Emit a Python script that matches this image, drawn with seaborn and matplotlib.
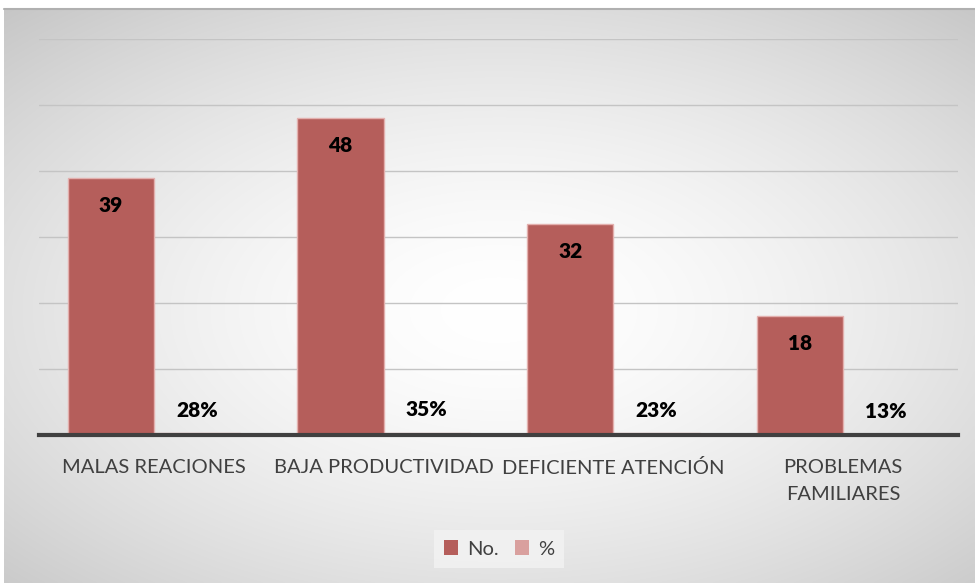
import numpy as np
import pandas as pd
import matplotlib
matplotlib.use("Agg")
import matplotlib.pyplot as plt
import seaborn as sns

sns.set_theme(style="white")
plt.rcParams['font.family'] = ['Lato', 'DejaVu Sans']

categorias = ['MALAS REACIONES', 'BAJA PRODUCTIVIDAD', 'DEFICIENTE ATENCIÓN', 'PROBLEMAS\nFAMILIARES']
numero = [39, 48, 32, 18]
porcentaje = [0.28, 0.35, 0.23, 0.13]
series = ['No.', '%']
colores = {'No.': '#b55e5b', '%': '#d9a09e'}

df = pd.DataFrame({
    'Categoria': categorias * 2,
    'Serie': ['No.'] * len(categorias) + ['%'] * len(categorias),
    'Valor': numero + porcentaje,
})

fig = plt.figure(figsize=(9.75, 5.83), dpi=100)
fig.patch.set_facecolor('white')

# radial gradient panel behind the chart
bg = fig.add_axes([4 / 975, 0, 1 - 4 / 975, 1 - 9 / 583], zorder=0)
gx, gy = np.meshgrid(np.linspace(-1, 1, 400), np.linspace(-1, 1, 300))
r = np.sqrt(((gx - 0.02) / 1.15) ** 2 + ((gy - 0.05) / 1.1) ** 2)
shade = 1.0 - 0.25 * np.clip(r, 0, 1.4) ** 1.6 / 1.4 ** 1.6
bg.imshow(np.dstack([shade] * 3), aspect='auto', extent=[0, 1, 0, 1], interpolation='bilinear')
bg.set_xlim(0, 1)
bg.set_ylim(0, 1)
bg.axis('off')
bg.plot([0, 1], [1, 1], color='#b0b0b0', lw=1.5, transform=bg.transAxes, clip_on=False)

ax = fig.add_axes([39 / 975, 148 / 583, (958 - 39) / 975, (435 - 39) / 583], zorder=1)
ax.patch.set_alpha(0)

sns.barplot(data=df, x='Categoria', y='Valor', hue='Serie', hue_order=series,
            palette=colores, width=0.75, edgecolor='#e3b0ae', linewidth=1,
            saturation=1, ax=ax, legend=False, zorder=3)

ax.set_ylim(0, 60)
ax.set_yticks(np.arange(0, 61, 10))
ax.set_yticklabels([])
ax.tick_params(axis='y', length=0)
ax.tick_params(axis='x', length=0, pad=17, labelsize=14.5, labelcolor='#404040')
for lbl in ax.get_xticklabels():
    lbl.set_linespacing(1.75)
ax.yaxis.grid(True, color='#c4c4c4', lw=1)
ax.set_axisbelow(True)
ax.set_xlabel('')
ax.set_ylabel('')
for s in ['top', 'right', 'left']:
    ax.spines[s].set_visible(False)
ax.spines['bottom'].set_color('#404040')
ax.spines['bottom'].set_linewidth(3)
ax.spines['bottom'].set_zorder(5)

# data labels
for serie, cont in zip(series, ax.containers):
    for bar in cont:
        h = bar.get_height()
        xc = bar.get_x() + bar.get_width() / 2
        if serie == 'No.':
            txt, off = f'{h:.0f}', -20
        else:
            txt, off = f'{h * 100:.0f}%', 16.5
        ax.annotate(txt, (xc, h), xytext=(0, off), textcoords='offset points',
                    ha='center', va='center', fontsize=15, fontweight='heavy',
                    color='black', zorder=6)

handles = [plt.Rectangle((0, 0), 1, 1, facecolor=colores[s], edgecolor='none') for s in series]
leg = fig.legend(handles, series, loc='center', bbox_to_anchor=(499 / 975, 1 - 549 / 583),
                 ncol=2, frameon=True, fontsize=14.5, handlelength=0.7, handleheight=0.7,
                 handletextpad=0.45, columnspacing=0.8, borderpad=0.5, fancybox=False)
leg.get_frame().set_facecolor('#f3f3f3')
leg.get_frame().set_edgecolor('none')
for t in leg.get_texts():
    t.set_color('#404040')

fig.savefig('out.png', dpi=100)
